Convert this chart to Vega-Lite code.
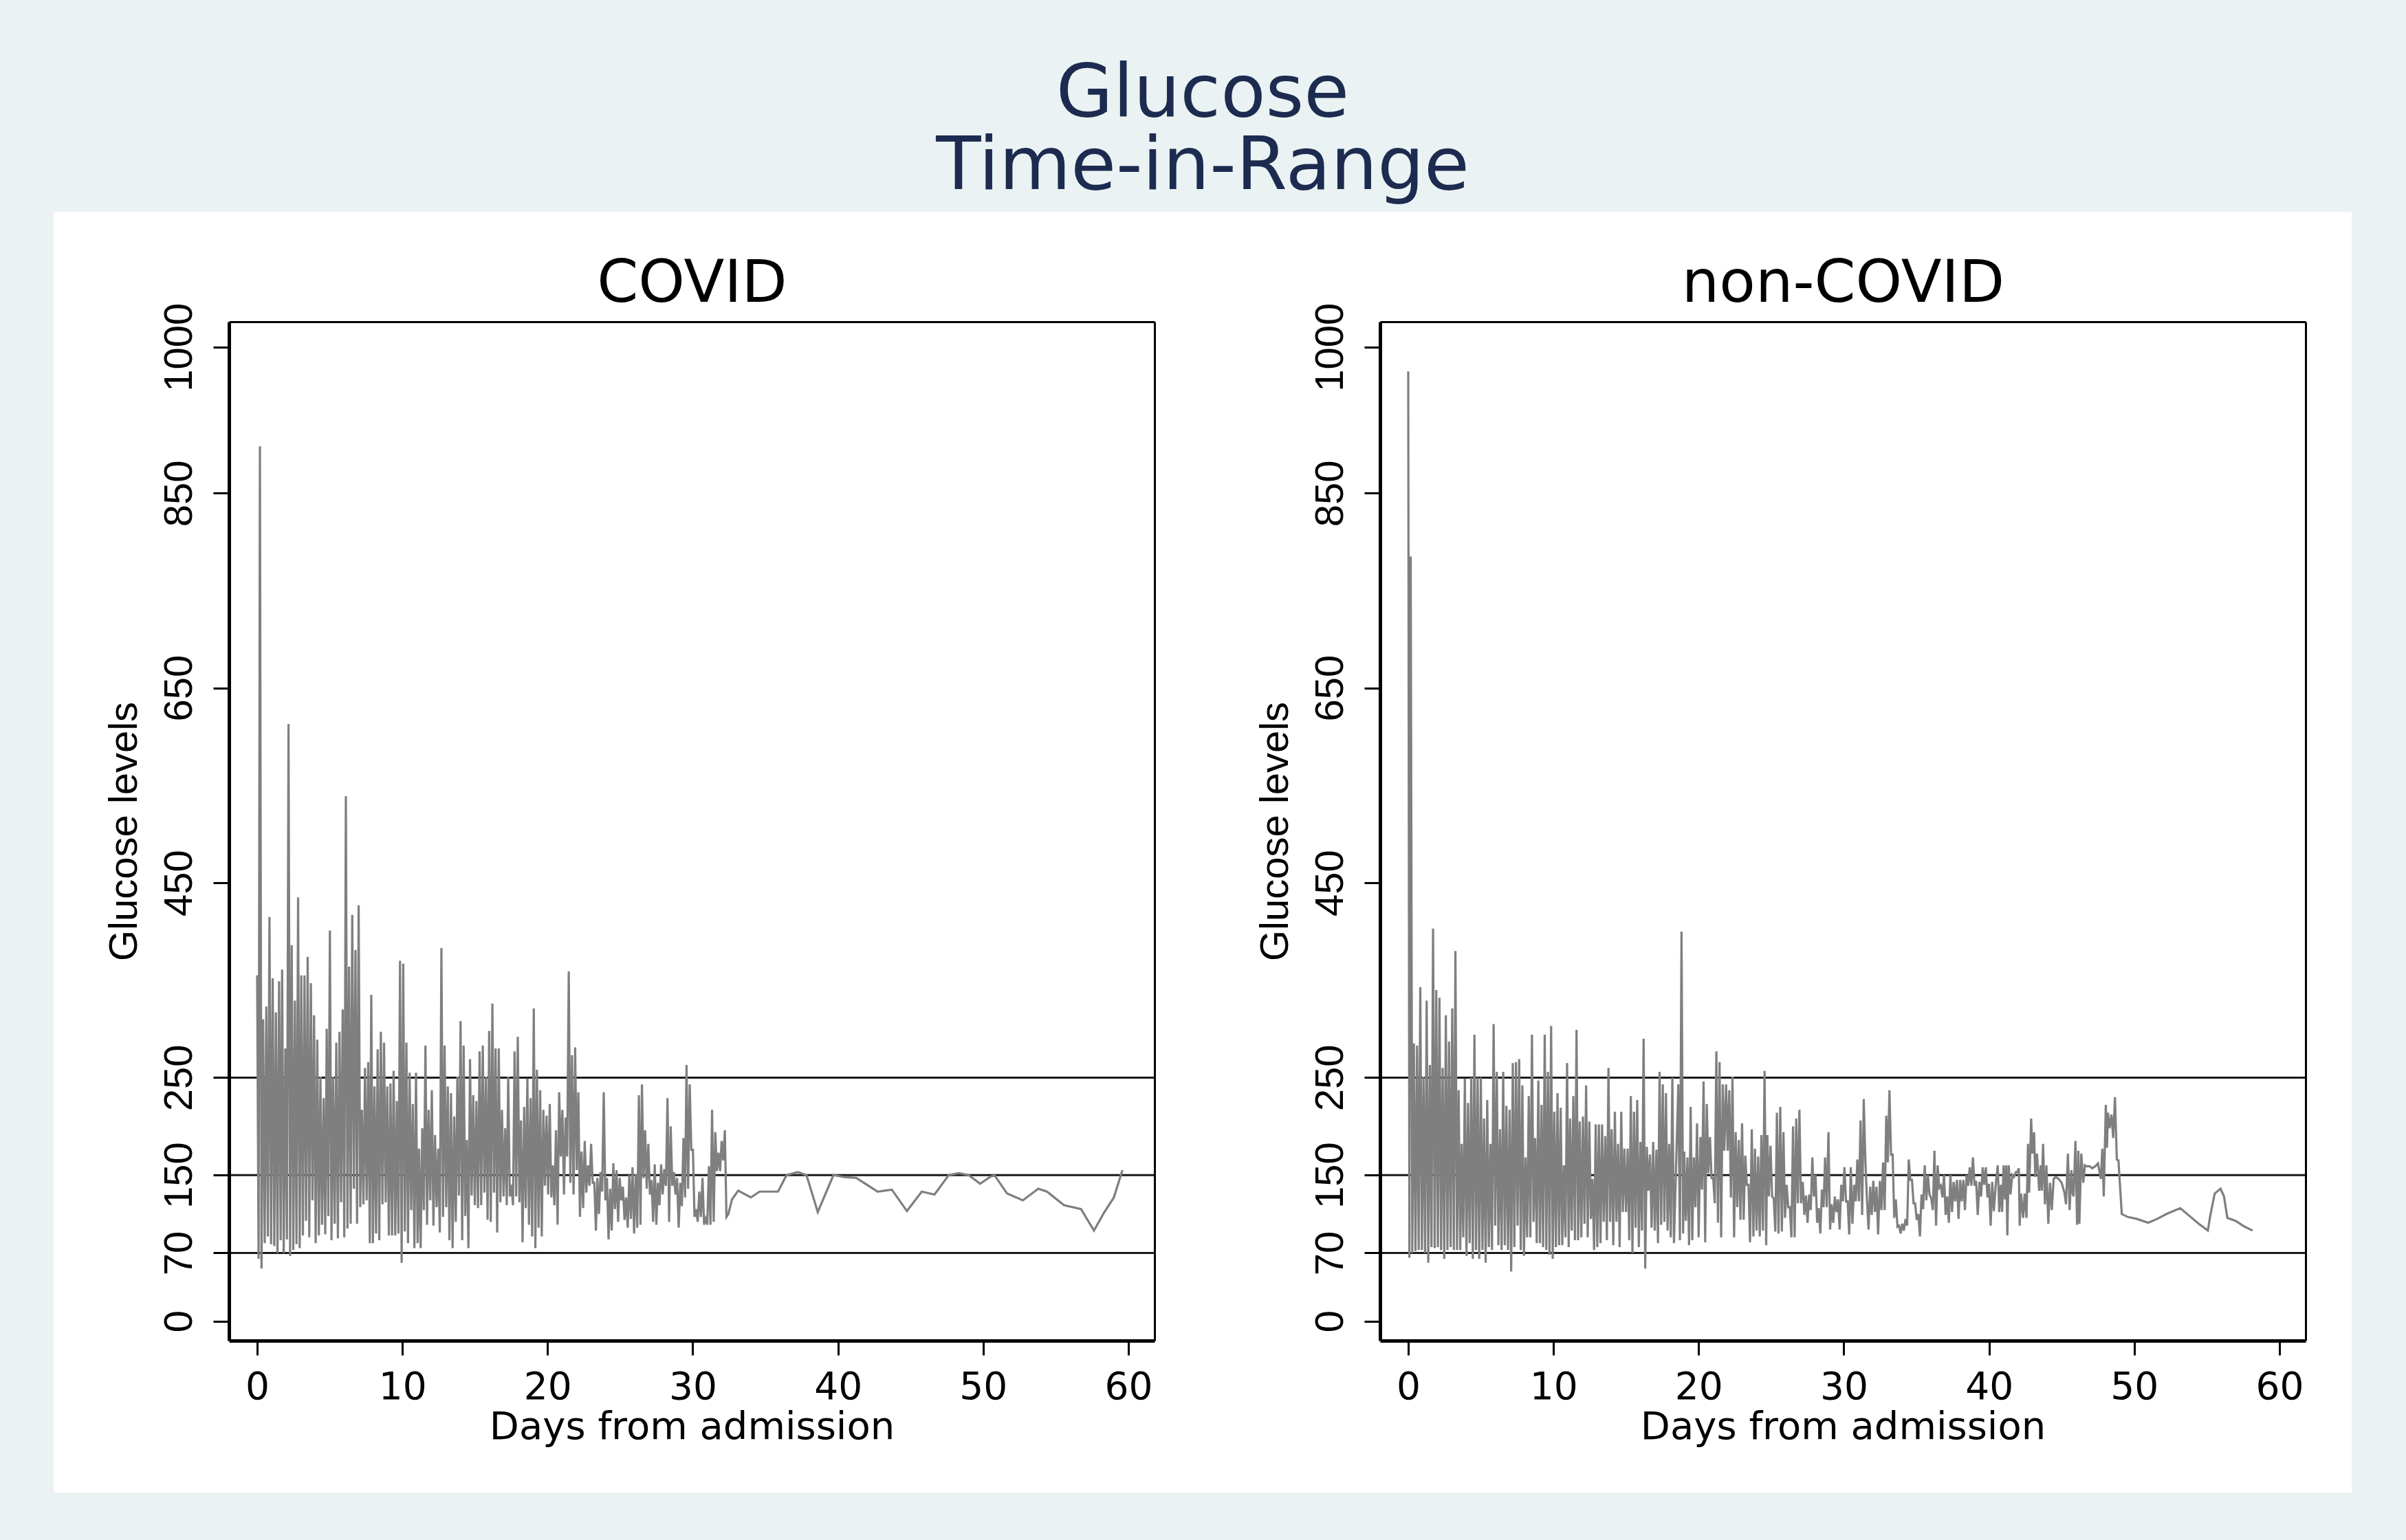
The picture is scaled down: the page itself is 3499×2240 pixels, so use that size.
{
  "$schema": "https://vega.github.io/schema/vega-lite/v6.json",
  "background": "#EAF2F3",
  "padding": {"left": 78, "right": 80, "top": 82, "bottom": 69},
  "title": {"text": ["Glucose", "Time-in-Range"], "font": "DejaVu Sans", "fontSize": 107, "fontWeight": "normal", "color": "#1c2b4f", "lineHeight": 106, "baseline": "bottom", "offset": -96, "anchor": "middle"},
  "spacing": -2,
  "datasets": {
    "ref": [{"g": 70}, {"g": 150}, {"g": 250}],
    "covid": [{"d":0,"g":355},{"d":0.1,"g":64},{"d":0.19,"g":898},{"d":0.3,"g":54},{"d":0.41,"g":310},{"d":0.52,"g":80},{"d":0.63,"g":323},{"d":0.74,"g":87},{"d":0.85,"g":415},{"d":0.96,"g":79},{"d":1.07,"g":352},{"d":1.18,"g":77},{"d":1.29,"g":317},{"d":1.4,"g":70},{"d":1.51,"g":349},{"d":1.62,"g":83},{"d":1.72,"g":361},{"d":1.83,"g":70},{"d":1.94,"g":280},{"d":2.05,"g":84},{"d":2.16,"g":613},{"d":2.27,"g":67},{"d":2.38,"g":386},{"d":2.49,"g":73},{"d":2.6,"g":329},{"d":2.71,"g":79},{"d":2.82,"g":435},{"d":2.93,"g":75},{"d":3.04,"g":355},{"d":3.15,"g":88},{"d":3.26,"g":355},{"d":3.37,"g":103},{"d":3.48,"g":374},{"d":3.59,"g":86},{"d":3.7,"g":347},{"d":3.81,"g":124},{"d":3.92,"g":314},{"d":4.03,"g":80},{"d":4.14,"g":289},{"d":4.25,"g":88},{"d":4.36,"g":251},{"d":4.47,"g":99},{"d":4.58,"g":229},{"d":4.69,"g":89},{"d":4.79,"g":300},{"d":4.9,"g":108},{"d":5.01,"g":401},{"d":5.12,"g":83},{"d":5.23,"g":251},{"d":5.34,"g":100},{"d":5.45,"g":286},{"d":5.56,"g":85},{"d":5.67,"g":297},{"d":5.78,"g":122},{"d":5.89,"g":320},{"d":6.0,"g":86},{"d":6.11,"g":539},{"d":6.22,"g":95},{"d":6.33,"g":364},{"d":6.44,"g":100},{"d":6.55,"g":417},{"d":6.66,"g":136},{"d":6.77,"g":381},{"d":6.88,"g":100},{"d":6.99,"g":427},{"d":7.1,"g":117},{"d":7.21,"g":217},{"d":7.32,"g":120},{"d":7.43,"g":260},{"d":7.54,"g":124},{"d":7.65,"g":266},{"d":7.76,"g":80},{"d":7.86,"g":335},{"d":7.97,"g":80},{"d":8.08,"g":241},{"d":8.19,"g":90},{"d":8.3,"g":279},{"d":8.41,"g":83},{"d":8.52,"g":297},{"d":8.63,"g":120},{"d":8.74,"g":286},{"d":8.85,"g":122},{"d":8.96,"g":241},{"d":9.07,"g":88},{"d":9.18,"g":244},{"d":9.29,"g":88},{"d":9.4,"g":257},{"d":9.51,"g":88},{"d":9.62,"g":226},{"d":9.73,"g":90},{"d":9.84,"g":370},{"d":9.95,"g":60},{"d":10.06,"g":367},{"d":10.17,"g":92},{"d":10.28,"g":286},{"d":10.39,"g":80},{"d":10.5,"g":255},{"d":10.61,"g":114},{"d":10.72,"g":223},{"d":10.83,"g":75},{"d":10.94,"g":255},{"d":11.05,"g":80},{"d":11.15,"g":177},{"d":11.26,"g":75},{"d":11.37,"g":198},{"d":11.48,"g":114},{"d":11.59,"g":283},{"d":11.7,"g":99},{"d":11.81,"g":217},{"d":11.92,"g":124},{"d":12.03,"g":237},{"d":12.14,"g":98},{"d":12.25,"g":191},{"d":12.36,"g":117},{"d":12.47,"g":177},{"d":12.58,"g":91},{"d":12.69,"g":383},{"d":12.8,"g":107},{"d":12.91,"g":283},{"d":13.02,"g":117},{"d":13.13,"g":241},{"d":13.24,"g":83},{"d":13.35,"g":234},{"d":13.46,"g":75},{"d":13.57,"g":210},{"d":13.68,"g":102},{"d":13.79,"g":251},{"d":13.9,"g":129},{"d":14.01,"g":308},{"d":14.12,"g":83},{"d":14.22,"g":283},{"d":14.33,"g":108},{"d":14.44,"g":186},{"d":14.55,"g":75},{"d":14.66,"g":269},{"d":14.77,"g":129},{"d":14.88,"g":232},{"d":14.99,"g":119},{"d":15.1,"g":226},{"d":15.21,"g":116},{"d":15.32,"g":277},{"d":15.43,"g":119},{"d":15.54,"g":283},{"d":15.65,"g":132},{"d":15.76,"g":251},{"d":15.87,"g":104},{"d":15.98,"g":298},{"d":16.09,"g":102},{"d":16.2,"g":326},{"d":16.31,"g":132},{"d":16.42,"g":280},{"d":16.53,"g":91},{"d":16.64,"g":280},{"d":16.75,"g":122},{"d":16.86,"g":217},{"d":16.97,"g":128},{"d":17.08,"g":198},{"d":17.19,"g":119},{"d":17.29,"g":251},{"d":17.4,"g":128},{"d":17.51,"g":140},{"d":17.62,"g":119},{"d":17.73,"g":277},{"d":17.84,"g":128},{"d":17.95,"g":292},{"d":18.06,"g":122},{"d":18.17,"g":206},{"d":18.28,"g":81},{"d":18.39,"g":220},{"d":18.5,"g":116},{"d":18.61,"g":249},{"d":18.72,"g":99},{"d":18.83,"g":229},{"d":18.94,"g":87},{"d":19.05,"g":321},{"d":19.16,"g":75},{"d":19.27,"g":258},{"d":19.38,"g":96},{"d":19.49,"g":237},{"d":19.6,"g":87},{"d":19.71,"g":217},{"d":19.82,"g":139},{"d":19.93,"g":211},{"d":20.04,"g":130},{"d":20.15,"g":223},{"d":20.26,"g":127},{"d":20.36,"g":160},{"d":20.47,"g":119},{"d":20.58,"g":196},{"d":20.69,"g":99},{"d":20.8,"g":235},{"d":20.91,"g":169},{"d":21.02,"g":217},{"d":21.13,"g":130},{"d":21.24,"g":209},{"d":21.35,"g":169},{"d":21.46,"g":359},{"d":21.57,"g":142},{"d":21.68,"g":273},{"d":21.79,"g":130},{"d":21.9,"g":281},{"d":22.01,"g":155},{"d":22.12,"g":235},{"d":22.23,"g":107},{"d":22.34,"g":174},{"d":22.45,"g":116},{"d":22.56,"g":185},{"d":22.67,"g":132},{"d":22.78,"g":160},{"d":22.89,"g":139},{"d":23.0,"g":182},{"d":23.11,"g":142},{"d":23.22,"g":142},{"d":23.33,"g":93},{"d":23.43,"g":147},{"d":23.54,"g":110},{"d":23.65,"g":153},{"d":23.76,"g":133},{"d":23.87,"g":235},{"d":23.98,"g":124},{"d":24.09,"g":147},{"d":24.2,"g":84},{"d":24.31,"g":136},{"d":24.42,"g":93},{"d":24.53,"g":162},{"d":24.64,"g":115},{"d":24.75,"g":155},{"d":24.86,"g":102},{"d":24.97,"g":147},{"d":25.08,"g":124},{"d":25.19,"g":138},{"d":25.3,"g":104},{"d":25.41,"g":127},{"d":25.52,"g":96},{"d":25.63,"g":150},{"d":25.74,"g":105},{"d":25.85,"g":158},{"d":25.96,"g":90},{"d":26.07,"g":151},{"d":26.18,"g":96},{"d":26.29,"g":232},{"d":26.4,"g":99},{"d":26.5,"g":243},{"d":26.61,"g":147},{"d":26.72,"g":196},{"d":26.83,"g":136},{"d":26.94,"g":182},{"d":27.05,"g":130},{"d":27.16,"g":145},{"d":27.27,"g":102},{"d":27.38,"g":161},{"d":27.49,"g":99},{"d":27.6,"g":142},{"d":27.71,"g":119},{"d":27.82,"g":161},{"d":27.93,"g":130},{"d":28.04,"g":156},{"d":28.15,"g":139},{"d":28.26,"g":229},{"d":28.37,"g":102},{"d":28.48,"g":200},{"d":28.59,"g":139},{"d":28.7,"g":153},{"d":28.81,"g":130},{"d":28.92,"g":147},{"d":29.03,"g":96},{"d":29.14,"g":142},{"d":29.25,"g":118},{"d":29.36,"g":188},{"d":29.47,"g":127},{"d":29.57,"g":263},{"d":29.68,"g":136},{"d":29.79,"g":243},{"d":29.9,"g":176},{"d":30.01,"g":176},{"d":30.12,"g":107},{"d":30.23,"g":115},{"d":30.34,"g":102},{"d":30.45,"g":133},{"d":30.56,"g":107},{"d":30.67,"g":147},{"d":30.78,"g":99},{"d":30.89,"g":105},{"d":31.0,"g":99},{"d":31.11,"g":159},{"d":31.22,"g":99},{"d":31.33,"g":217},{"d":31.44,"g":102},{"d":31.55,"g":194},{"d":31.66,"g":154},{"d":31.77,"g":173},{"d":31.88,"g":154},{"d":31.99,"g":185},{"d":32.1,"g":165},{"d":32.21,"g":196},{"d":32.32,"g":107},{"d":32.45,"g":110},{"d":32.7,"g":125},{"d":33.13,"g":134},{"d":34.0,"g":127},{"d":34.6,"g":133},{"d":35.87,"g":133},{"d":36.46,"g":150},{"d":37.24,"g":153},{"d":37.83,"g":150},{"d":38.61,"g":112},{"d":39.69,"g":150},{"d":40.38,"g":148},{"d":41.26,"g":147},{"d":42.73,"g":133},{"d":43.71,"g":135},{"d":44.75,"g":113},{"d":45.77,"g":133},{"d":46.65,"g":130},{"d":47.63,"g":150},{"d":48.32,"g":152},{"d":49.0,"g":150},{"d":49.79,"g":141},{"d":50.47,"g":148},{"d":50.77,"g":150},{"d":51.65,"g":131},{"d":52.73,"g":124},{"d":53.8,"g":136},{"d":54.39,"g":133},{"d":55.57,"g":119},{"d":56.74,"g":115},{"d":57.63,"g":93},{"d":58.31,"g":111},{"d":59.0,"g":127},{"d":59.59,"g":155}],
    "noncovid": [{"d":0,"g":975},{"d":0.08,"g":65},{"d":0.17,"g":785},{"d":0.28,"g":70},{"d":0.39,"g":285},{"d":0.5,"g":72},{"d":0.61,"g":283},{"d":0.72,"g":73},{"d":0.83,"g":343},{"d":0.94,"g":73},{"d":1.05,"g":251},{"d":1.16,"g":70},{"d":1.27,"g":329},{"d":1.38,"g":60},{"d":1.49,"g":263},{"d":1.6,"g":76},{"d":1.71,"g":403},{"d":1.82,"g":75},{"d":1.93,"g":340},{"d":2.04,"g":76},{"d":2.15,"g":332},{"d":2.26,"g":73},{"d":2.37,"g":260},{"d":2.48,"g":64},{"d":2.59,"g":314},{"d":2.7,"g":73},{"d":2.81,"g":287},{"d":2.92,"g":76},{"d":3.03,"g":321},{"d":3.14,"g":73},{"d":3.25,"g":380},{"d":3.36,"g":73},{"d":3.47,"g":237},{"d":3.58,"g":73},{"d":3.68,"g":182},{"d":3.79,"g":86},{"d":3.9,"g":249},{"d":4.01,"g":67},{"d":4.12,"g":224},{"d":4.23,"g":80},{"d":4.34,"g":250},{"d":4.45,"g":64},{"d":4.56,"g":294},{"d":4.67,"g":73},{"d":4.78,"g":250},{"d":4.89,"g":64},{"d":5.0,"g":250},{"d":5.11,"g":73},{"d":5.22,"g":208},{"d":5.33,"g":60},{"d":5.44,"g":227},{"d":5.55,"g":76},{"d":5.66,"g":182},{"d":5.77,"g":73},{"d":5.88,"g":305},{"d":5.99,"g":98},{"d":6.1,"g":256},{"d":6.21,"g":78},{"d":6.32,"g":197},{"d":6.43,"g":73},{"d":6.54,"g":256},{"d":6.65,"g":78},{"d":6.76,"g":221},{"d":6.87,"g":73},{"d":6.98,"g":217},{"d":7.09,"g":51},{"d":7.2,"g":265},{"d":7.31,"g":76},{"d":7.42,"g":266},{"d":7.53,"g":98},{"d":7.64,"g":269},{"d":7.75,"g":73},{"d":7.86,"g":242},{"d":7.97,"g":67},{"d":8.08,"g":168},{"d":8.19,"g":86},{"d":8.3,"g":231},{"d":8.41,"g":86},{"d":8.52,"g":294},{"d":8.63,"g":102},{"d":8.74,"g":188},{"d":8.85,"g":80},{"d":8.96,"g":247},{"d":9.07,"g":80},{"d":9.18,"g":222},{"d":9.29,"g":76},{"d":9.4,"g":294},{"d":9.51,"g":73},{"d":9.62,"g":256},{"d":9.73,"g":68},{"d":9.84,"g":303},{"d":9.95,"g":64},{"d":10.06,"g":215},{"d":10.17,"g":76},{"d":10.28,"g":234},{"d":10.39,"g":78},{"d":10.5,"g":219},{"d":10.61,"g":78},{"d":10.72,"g":160},{"d":10.83,"g":86},{"d":10.94,"g":265},{"d":11.05,"g":76},{"d":11.15,"g":208},{"d":11.26,"g":93},{"d":11.37,"g":231},{"d":11.48,"g":83},{"d":11.59,"g":299},{"d":11.7,"g":83},{"d":11.81,"g":205},{"d":11.92,"g":86},{"d":12.03,"g":210},{"d":12.14,"g":100},{"d":12.25,"g":242},{"d":12.36,"g":86},{"d":12.47,"g":205},{"d":12.58,"g":105},{"d":12.69,"g":146},{"d":12.8,"g":73},{"d":12.91,"g":202},{"d":13.02,"g":76},{"d":13.13,"g":202},{"d":13.24,"g":80},{"d":13.35,"g":202},{"d":13.46,"g":102},{"d":13.57,"g":190},{"d":13.68,"g":83},{"d":13.79,"g":260},{"d":13.9,"g":102},{"d":14.01,"g":197},{"d":14.12,"g":78},{"d":14.23,"g":215},{"d":14.34,"g":102},{"d":14.45,"g":182},{"d":14.56,"g":76},{"d":14.67,"g":215},{"d":14.78,"g":112},{"d":14.89,"g":177},{"d":15.0,"g":112},{"d":15.11,"g":177},{"d":15.22,"g":83},{"d":15.33,"g":231},{"d":15.44,"g":70},{"d":15.55,"g":215},{"d":15.66,"g":96},{"d":15.77,"g":227},{"d":15.88,"g":76},{"d":15.99,"g":184},{"d":16.1,"g":93},{"d":16.21,"g":290},{"d":16.32,"g":54},{"d":16.43,"g":179},{"d":16.54,"g":134},{"d":16.65,"g":171},{"d":16.76,"g":96},{"d":16.87,"g":184},{"d":16.98,"g":93},{"d":17.09,"g":176},{"d":17.2,"g":80},{"d":17.31,"g":256},{"d":17.42,"g":99},{"d":17.53,"g":243},{"d":17.64,"g":102},{"d":17.75,"g":234},{"d":17.86,"g":93},{"d":17.97,"g":182},{"d":18.08,"g":86},{"d":18.19,"g":250},{"d":18.3,"g":80},{"d":18.6,"g":243},{"d":18.71,"g":83},{"d":18.82,"g":400},{"d":18.93,"g":90},{"d":19.01,"g":174},{"d":19.12,"g":103},{"d":19.23,"g":168},{"d":19.34,"g":78},{"d":19.45,"g":220},{"d":19.56,"g":83},{"d":19.67,"g":168},{"d":19.78,"g":117},{"d":19.89,"g":203},{"d":20.0,"g":86},{"d":20.12,"g":189},{"d":20.23,"g":135},{"d":20.34,"g":246},{"d":20.45,"g":81},{"d":20.56,"g":223},{"d":20.67,"g":152},{"d":20.78,"g":189},{"d":20.89,"g":147},{"d":21.0,"g":147},{"d":21.11,"g":121},{"d":21.22,"g":277},{"d":21.33,"g":101},{"d":21.44,"g":266},{"d":21.55,"g":86},{"d":21.66,"g":243},{"d":21.77,"g":175},{"d":21.89,"g":243},{"d":22.0,"g":175},{"d":22.11,"g":237},{"d":22.22,"g":127},{"d":22.33,"g":251},{"d":22.44,"g":86},{"d":22.55,"g":194},{"d":22.66,"g":117},{"d":22.77,"g":186},{"d":22.88,"g":104},{"d":22.99,"g":203},{"d":23.1,"g":104},{"d":23.21,"g":170},{"d":23.32,"g":140},{"d":23.43,"g":140},{"d":23.54,"g":81},{"d":23.66,"g":197},{"d":23.77,"g":87},{"d":23.88,"g":177},{"d":23.99,"g":93},{"d":24.1,"g":169},{"d":24.21,"g":87},{"d":24.32,"g":191},{"d":24.43,"g":93},{"d":24.54,"g":257},{"d":24.65,"g":78},{"d":24.73,"g":191},{"d":24.84,"g":128},{"d":24.95,"g":180},{"d":25.06,"g":128},{"d":25.17,"g":126},{"d":25.28,"g":92},{"d":25.39,"g":214},{"d":25.5,"g":90},{"d":25.62,"g":220},{"d":25.73,"g":92},{"d":25.84,"g":194},{"d":25.95,"g":106},{"d":26.06,"g":140},{"d":26.17,"g":117},{"d":26.28,"g":117},{"d":26.39,"g":86},{"d":26.5,"g":200},{"d":26.61,"g":86},{"d":26.72,"g":208},{"d":26.83,"g":121},{"d":26.94,"g":217},{"d":27.05,"g":121},{"d":27.17,"g":143},{"d":27.28,"g":109},{"d":27.39,"g":129},{"d":27.5,"g":101},{"d":27.61,"g":130},{"d":27.72,"g":114},{"d":27.83,"g":168},{"d":27.94,"g":128},{"d":28.05,"g":150},{"d":28.16,"g":101},{"d":28.27,"g":116},{"d":28.38,"g":90},{"d":28.49,"g":135},{"d":28.6,"g":117},{"d":28.71,"g":168},{"d":28.82,"g":117},{"d":28.94,"g":194},{"d":29.05,"g":94},{"d":29.16,"g":120},{"d":29.27,"g":101},{"d":29.38,"g":128},{"d":29.49,"g":112},{"d":29.6,"g":125},{"d":29.71,"g":94},{"d":29.82,"g":140},{"d":29.93,"g":123},{"d":30.04,"g":158},{"d":30.15,"g":123},{"d":30.26,"g":123},{"d":30.37,"g":89},{"d":30.48,"g":158},{"d":30.59,"g":100},{"d":30.71,"g":140},{"d":30.82,"g":123},{"d":30.93,"g":166},{"d":31.04,"g":123},{"d":31.15,"g":206},{"d":31.26,"g":109},{"d":31.37,"g":228},{"d":31.48,"g":166},{"d":31.59,"g":125},{"d":31.7,"g":94},{"d":31.81,"g":138},{"d":31.92,"g":109},{"d":32.03,"g":144},{"d":32.14,"g":112},{"d":32.25,"g":138},{"d":32.36,"g":89},{"d":32.48,"g":144},{"d":32.59,"g":114},{"d":32.7,"g":163},{"d":32.81,"g":114},{"d":32.92,"g":211},{"d":33.03,"g":163},{"d":33.14,"g":237},{"d":33.25,"g":171},{"d":33.36,"g":171},{"d":33.47,"g":106},{"d":33.58,"g":125},{"d":33.69,"g":97},{"d":33.8,"g":98},{"d":33.91,"g":90},{"d":34.02,"g":100},{"d":34.13,"g":93},{"d":34.25,"g":105},{"d":34.36,"g":98},{"d":34.47,"g":166},{"d":34.58,"g":145},{"d":34.69,"g":145},{"d":34.8,"g":121},{"d":34.91,"g":121},{"d":35.02,"g":104},{"d":35.13,"g":110},{"d":35.24,"g":87},{"d":35.35,"g":130},{"d":35.46,"g":115},{"d":35.57,"g":160},{"d":35.68,"g":124},{"d":35.79,"g":150},{"d":35.9,"g":130},{"d":36.02,"g":126},{"d":36.13,"g":114},{"d":36.24,"g":175},{"d":36.35,"g":98},{"d":36.46,"g":160},{"d":36.57,"g":137},{"d":36.68,"g":139},{"d":36.79,"g":127},{"d":36.9,"g":150},{"d":37.01,"g":109},{"d":37.12,"g":128},{"d":37.23,"g":101},{"d":37.34,"g":150},{"d":37.45,"g":112},{"d":37.56,"g":143},{"d":37.67,"g":123},{"d":37.79,"g":145},{"d":37.9,"g":105},{"d":38.01,"g":145},{"d":38.12,"g":123},{"d":38.23,"g":145},{"d":38.34,"g":114},{"d":38.45,"g":150},{"d":38.56,"g":139},{"d":38.67,"g":158},{"d":38.78,"g":139},{"d":38.89,"g":168},{"d":39.0,"g":139},{"d":39.11,"g":144},{"d":39.22,"g":109},{"d":39.34,"g":143},{"d":39.45,"g":128},{"d":39.56,"g":158},{"d":39.67,"g":140},{"d":39.78,"g":158},{"d":39.89,"g":127},{"d":40.0,"g":141},{"d":40.11,"g":98},{"d":40.22,"g":143},{"d":40.33,"g":113},{"d":40.47,"g":142},{"d":40.6,"g":160},{"d":40.7,"g":112},{"d":40.81,"g":140},{"d":40.9,"g":112},{"d":41.0,"g":160},{"d":41.1,"g":125},{"d":41.18,"g":160},{"d":41.26,"g":88},{"d":41.35,"g":160},{"d":41.48,"g":130},{"d":41.6,"g":150},{"d":41.71,"g":148},{"d":41.85,"g":153},{"d":41.95,"g":153},{"d":42.05,"g":157},{"d":42.11,"g":98},{"d":42.2,"g":131},{"d":42.35,"g":106},{"d":42.45,"g":131},{"d":42.58,"g":106},{"d":42.68,"g":182},{"d":42.76,"g":132},{"d":42.9,"g":208},{"d":42.98,"g":172},{"d":43.1,"g":194},{"d":43.18,"g":148},{"d":43.3,"g":172},{"d":43.45,"g":134},{"d":43.55,"g":160},{"d":43.63,"g":134},{"d":43.72,"g":182},{"d":43.85,"g":120},{"d":43.95,"g":160},{"d":44.08,"g":100},{"d":44.2,"g":142},{"d":44.32,"g":114},{"d":44.45,"g":146},{"d":44.6,"g":148},{"d":44.8,"g":146},{"d":45.0,"g":142},{"d":45.19,"g":132},{"d":45.3,"g":120},{"d":45.43,"g":172},{"d":45.55,"g":114},{"d":45.67,"g":155},{"d":45.75,"g":132},{"d":45.82,"g":128},{"d":45.95,"g":185},{"d":46.06,"g":99},{"d":46.15,"g":175},{"d":46.22,"g":100},{"d":46.35,"g":172},{"d":46.49,"g":142},{"d":46.6,"g":160},{"d":46.69,"g":159},{"d":46.93,"g":159},{"d":47.1,"g":157},{"d":47.32,"g":159},{"d":47.5,"g":162},{"d":47.7,"g":146},{"d":47.8,"g":177},{"d":47.9,"g":128},{"d":48.04,"g":222},{"d":48.12,"g":178},{"d":48.19,"g":214},{"d":48.3,"g":198},{"d":48.43,"g":212},{"d":48.55,"g":188},{"d":48.67,"g":230},{"d":48.8,"g":166},{"d":48.91,"g":165},{"d":49.14,"g":110},{"d":49.54,"g":107},{"d":50.17,"g":105},{"d":50.96,"g":101},{"d":51.59,"g":105},{"d":52.22,"g":110},{"d":53.17,"g":116},{"d":53.8,"g":108},{"d":54.44,"g":100},{"d":55.07,"g":93},{"d":55.23,"g":108},{"d":55.54,"g":131},{"d":55.94,"g":136},{"d":56.18,"g":128},{"d":56.41,"g":106},{"d":56.97,"g":103},{"d":57.6,"g":97},{"d":58.15,"g":93}]
  },
  "hconcat": [
    {
      "width": 1346,
      "height": 1482,
      "layer": [
        {
          "data": {"values": [{}]},
          "mark": {"type": "rect", "fill": "white", "opacity": 1},
          "encoding": {
            "x": {"datum": -14.015, "type": "quantitative", "scale": {"domain": [-1.94, 61.8], "nice": false, "zero": false},
              "axis": {"orient": "top", "zindex": 1, "labels": false, "ticks": false, "domain": true, "domainWidth": 3, "title": "COVID", "titleFont": "DejaVu Sans", "titleFontSize": 86, "titleFontWeight": "normal", "titlePadding": 30, "titleBaseline": "alphabetic"}},
            "x2": {"datum": 64.689},
            "y": {"datum": 1138.93, "type": "quantitative", "scale": {"domain": [-20, 1026], "nice": false, "zero": false},
              "axis": {"orient": "right", "zindex": 1, "labels": false, "ticks": false, "domain": true, "domainWidth": 3, "title": null}},
            "y2": {"datum": -175.98}
          }
        },
        {
          "data": {"name": "ref"},
          "mark": {"type": "rule", "color": "#1a1a1a", "strokeWidth": 3},
          "encoding": {"y": {"field": "g", "type": "quantitative", "scale": {"domain": [-20, 1026], "nice": false, "zero": false}, "axis": null}}
        },
        {
          "data": {"name": "covid"},
          "mark": {"type": "line", "color": "#7f7f7f", "strokeWidth": 3.2},
          "encoding": {
            "x": {"field": "d", "type": "quantitative", "scale": {"domain": [-1.94, 61.8], "nice": false, "zero": false},
              "axis": {"orient": "bottom", "zindex": 1, "values": [0, 10, 20, 30, 40, 50, 60], "format": "d", "title": "Days from admission", "labelFont": "DejaVu Sans", "labelFontSize": 55, "labelPadding": 20, "tickSize": 21, "tickWidth": 3, "domainWidth": 5, "titleFont": "DejaVu Sans", "titleFontSize": 56, "titleFontWeight": "normal", "titlePadding": 3}},
            "y": {"field": "g", "type": "quantitative", "scale": {"domain": [-20, 1026], "nice": false, "zero": false},
              "axis": {"orient": "left", "zindex": 1, "values": [0, 70, 150, 250, 450, 650, 850, 1000], "format": "d", "title": "Glucose levels", "labelFont": "Liberation Sans", "labelFontSize": 58, "labelAngle": 270, "labelAlign": "center", "labelBaseline": "alphabetic", "labelPadding": 32, "tickSize": 23, "tickWidth": 3, "domainWidth": 5, "titleFont": "Liberation Sans", "titleFontSize": 58, "titleFontWeight": "normal", "titlePadding": 22}}
          }
        }
      ]
    },
    {
      "width": 1346,
      "height": 1482,
      "layer": [
        {
          "data": {"values": [{}]},
          "mark": {"type": "rect", "fill": "white", "opacity": 1},
          "encoding": {
            "x": {"datum": -14.631, "type": "quantitative", "scale": {"domain": [-1.94, 61.8], "nice": false, "zero": false},
              "axis": {"orient": "top", "zindex": 1, "labels": false, "ticks": false, "domain": true, "domainWidth": 3, "title": "non-COVID", "titleFont": "DejaVu Sans", "titleFontSize": 86, "titleFontWeight": "normal", "titlePadding": 30, "titleBaseline": "alphabetic"}},
            "x2": {"datum": 64.973},
            "y": {"datum": 1138.93, "type": "quantitative", "scale": {"domain": [-20, 1026], "nice": false, "zero": false},
              "axis": {"orient": "right", "zindex": 1, "labels": false, "ticks": false, "domain": true, "domainWidth": 3, "title": null}},
            "y2": {"datum": -175.98}
          }
        },
        {
          "data": {"name": "ref"},
          "mark": {"type": "rule", "color": "#1a1a1a", "strokeWidth": 3},
          "encoding": {"y": {"field": "g", "type": "quantitative", "scale": {"domain": [-20, 1026], "nice": false, "zero": false}, "axis": null}}
        },
        {
          "data": {"name": "noncovid"},
          "mark": {"type": "line", "color": "#7f7f7f", "strokeWidth": 3.2},
          "encoding": {
            "x": {"field": "d", "type": "quantitative", "scale": {"domain": [-1.94, 61.8], "nice": false, "zero": false},
              "axis": {"orient": "bottom", "zindex": 1, "values": [0, 10, 20, 30, 40, 50, 60], "format": "d", "title": "Days from admission", "labelFont": "DejaVu Sans", "labelFontSize": 55, "labelPadding": 20, "tickSize": 21, "tickWidth": 3, "domainWidth": 5, "titleFont": "DejaVu Sans", "titleFontSize": 56, "titleFontWeight": "normal", "titlePadding": 3}},
            "y": {"field": "g", "type": "quantitative", "scale": {"domain": [-20, 1026], "nice": false, "zero": false},
              "axis": {"orient": "left", "zindex": 1, "values": [0, 70, 150, 250, 450, 650, 850, 1000], "format": "d", "title": "Glucose levels", "labelFont": "Liberation Sans", "labelFontSize": 58, "labelAngle": 270, "labelAlign": "center", "labelBaseline": "alphabetic", "labelPadding": 32, "tickSize": 23, "tickWidth": 3, "domainWidth": 5, "titleFont": "Liberation Sans", "titleFontSize": 58, "titleFontWeight": "normal", "titlePadding": 22}}
          }
        }
      ]
    }
  ],
  "config": {
    "font": "DejaVu Sans",
    "view": {"stroke": null},
    "axis": {"grid": false, "domainColor": "black", "tickColor": "black", "labelColor": "black", "titleColor": "black", "labelFlush": false, "labelOverlap": false}
  }
}
